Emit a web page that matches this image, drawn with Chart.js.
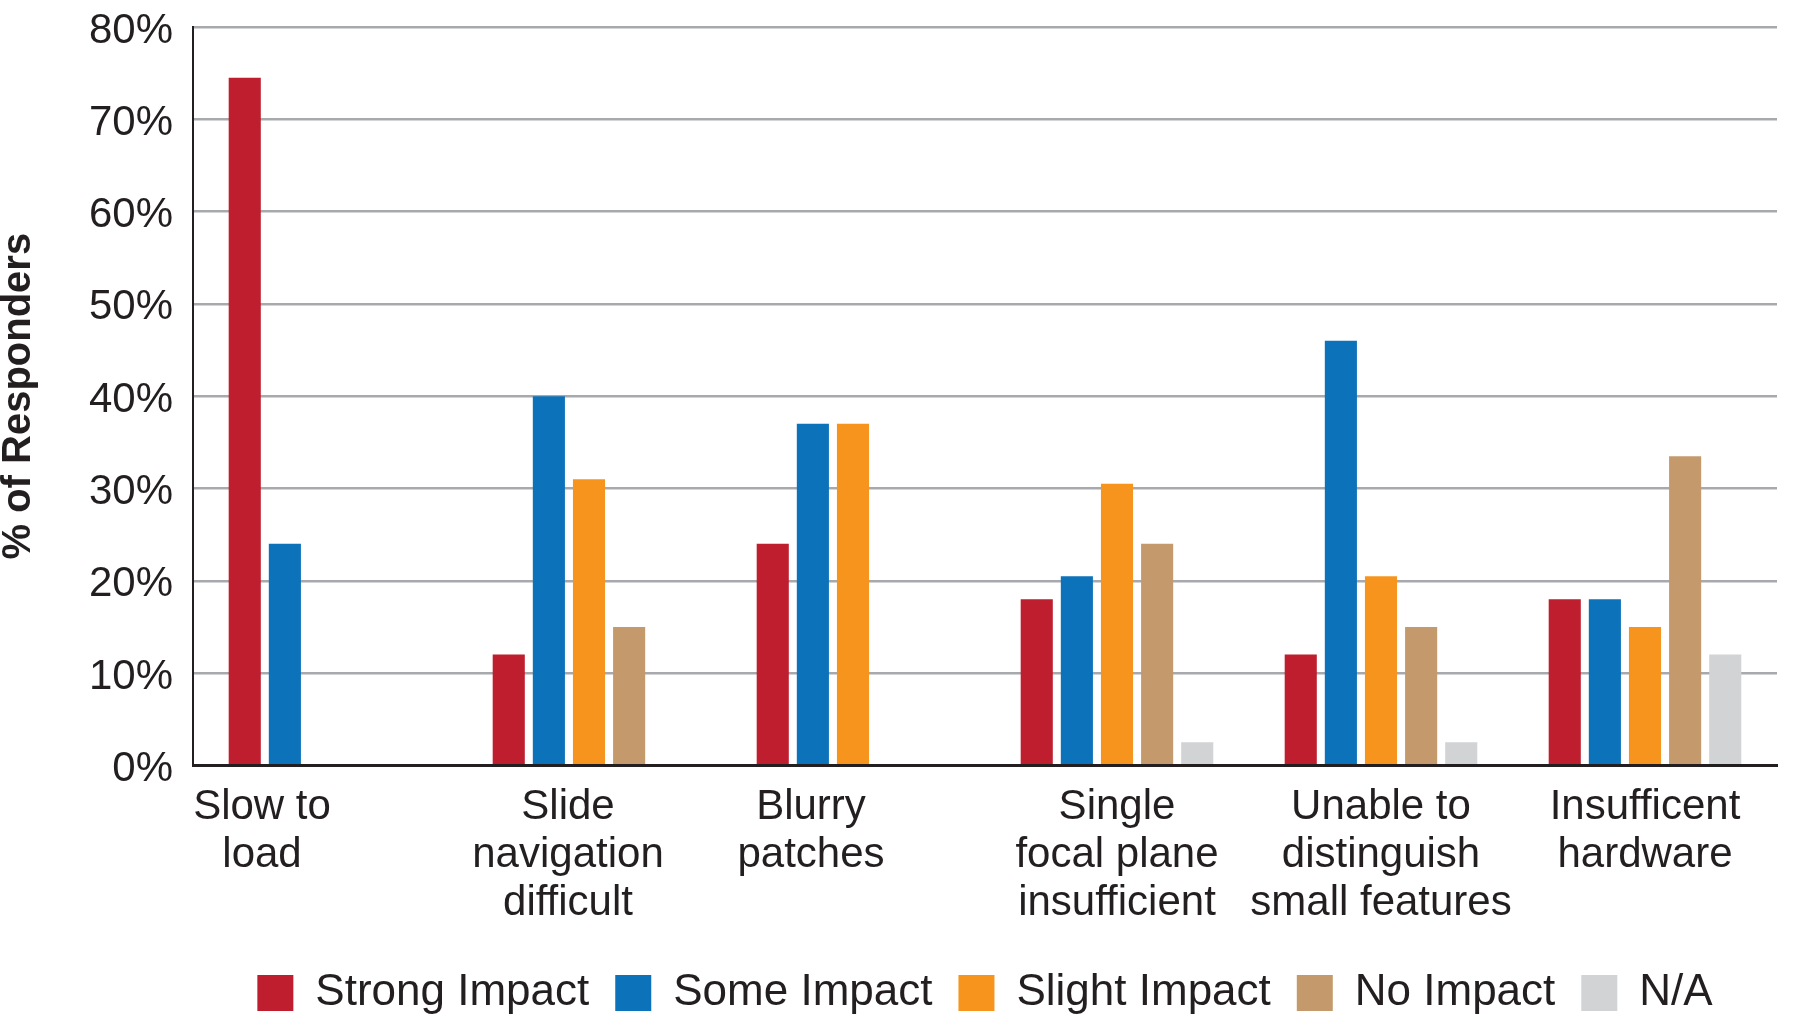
<!DOCTYPE html>
<html>
<head>
<meta charset="utf-8">
<script src="https://cdn.jsdelivr.net/npm/chart.js@4"></script>
<style>
  html, body { margin: 0; padding: 0; background: #fff; }
  #wrap { width: 1800px; height: 1019px; position: relative; }
</style>
</head>
<body>
<div id="wrap"><canvas id="chart"></canvas></div>
<script>
// categories, one entry per group (lines as printed)
const categories = [
  ["Slow to", "load"],
  ["Slide", "navigation", "difficult"],
  ["Blurry", "patches"],
  ["Single", "focal plane", "insufficient"],
  ["Unable to", "distinguish", "small features"],
  ["Insufficent", "hardware"],
];

// % of responders per impact level (null = no bar)
const strongImpact = [74.5, 12, 24, 18, 12, 18];
const someImpact = [24, 40, 37, 20.5, 46, 18];
const slightImpact = [null, 31, 37, 30.5, 20.5, 15];
const noImpact = [null, 15, null, 24, 15, 33.5];
const notApplicable = [null, null, null, 2.5, 2.5, 12];

const yTicks = [0, 10, 20, 30, 40, 50, 60, 70, 80];

const seriesNames = ["Strong Impact", "Some Impact", "Slight Impact", "No Impact", "N/A"];
const seriesColors = ["#BE1E2D", "#0C72BA", "#F7941D", "#C49A6C", "#D1D3D4"];
const seriesData = [strongImpact, someImpact, slightImpact, noImpact, notApplicable];

const FONT = "'Liberation Sans', Arial, Helvetica, sans-serif";
const INK = "#231F20";

// labels sit under the bars that are present, so pad the line when trailing bars are missing
function missingBars(index) {
  return seriesData.filter((s) => s[index] === null).length;
}

const ctx = document.getElementById("chart");

new Chart(ctx, {
  type: "bar",
  data: {
    labels: categories,
    datasets: seriesData.map((values, i) => ({
      label: seriesNames[i],
      data: values,
      backgroundColor: seriesColors[i],
      borderWidth: 0,
      categoryPercentage: 0.76,
      barPercentage: 0.8,
    })),
  },
  options: {
    responsive: true,
    maintainAspectRatio: false,
    animation: false,
    layout: { padding: { top: 27, right: 23, left: 0, bottom: -6 } },
    plugins: {
      legend: {
        position: "bottom",
        fullSize: false,
        labels: {
          color: INK,
          font: { family: FONT, size: 44 },
          boxWidth: 36,
          boxHeight: 36,
          padding: 26,
        },
      },
      tooltip: { enabled: false },
    },
    scales: {
      x: {
        grid: { display: false, drawTicks: false },
        border: { display: true, color: INK, width: 3 },
        ticks: {
          color: INK,
          padding: 18,
          maxRotation: 0,
          autoSkip: false,
          font: { family: FONT, size: 42, lineHeight: 1.14 },
          callback: function (value, index) {
            const pad = "\u2002\u2002".repeat(missingBars(index));
            return categories[index].map((line) => line + pad);
          },
        },
      },
      y: {
        min: 0,
        max: 80,
        afterBuildTicks: (scale) => {
          scale.ticks = yTicks.map((v) => ({ value: v }));
        },
        afterFit: (scale) => {
          scale.width = 193;
          scale.paddingTop = 0;
          scale.paddingBottom = 0;
        },
        grid: { color: "#A7A9AC", lineWidth: 2.5, drawTicks: false },
        border: { display: true, color: INK, width: 2 },
        ticks: {
          color: INK,
          padding: 20,
          labelOffset: 4,
          font: { family: FONT, size: 42 },
          callback: (v) => v + "%",
        },
        title: {
          display: true,
          text: "% of Responders",
          color: INK,
          padding: 0,
          font: { family: FONT, size: 40, weight: "bold", lineHeight: 0.95 },
        },
      },
    },
  },
});
</script>
</body>
</html>
